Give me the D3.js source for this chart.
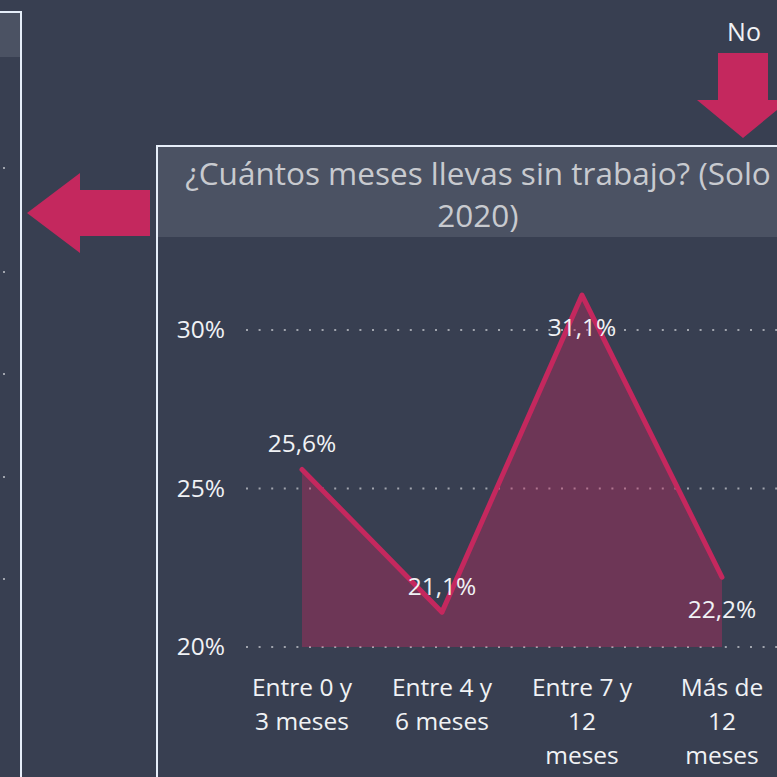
<!DOCTYPE html>
<html>
<head>
<meta charset="utf-8">
<script src="https://cdn.jsdelivr.net/npm/d3@7"></script>
<style>
  html, body { margin: 0; padding: 0; background: #383f51; overflow: hidden; }
  svg { display: block; font-family: "Open Sans", "Noto Sans", sans-serif; }
</style>
</head>
<body>
<div id="chart"></div>
<script>
// datos
var categories = ["Entre 0 y 3 meses", "Entre 4 y 6 meses", "Entre 7 y 12 meses", "Más de 12 meses"];
var values = [25.6, 21.1, 31.1, 22.2];
var yTicks = [20, 25, 30];
var title = ["¿Cuántos meses llevas sin trabajo? (Solo", "2020)"];
var arrowLabel = "No";

var width = 777, height = 777;
var bg = "#383f51", band = "#4b5263", border = "#e6eef9";
var pink = "#c4285e";

var svg = d3.select("#chart").append("svg")
    .attr("width", width)
    .attr("height", height);

svg.append("rect").attr("width", width).attr("height", height).attr("fill", bg);

// panel de la izquierda (cortado)
svg.append("rect")
    .attr("x", -20).attr("y", 13).attr("width", 40).attr("height", 44)
    .attr("fill", band);
svg.append("rect")
    .attr("x", -20).attr("y", 12).attr("width", 41).attr("height", 820)
    .attr("fill", "none").attr("stroke", border).attr("stroke-width", 2);
[168, 272, 374, 477, 579].forEach(function(y) {
    svg.append("rect").attr("x", 3).attr("y", y - 1).attr("width", 2).attr("height", 2)
        .attr("fill", "#a0a4ad");
});

// flechas
svg.append("path")
    .attr("d", "M27,213 L80,173 L80,190 L150,190 L150,236 L80,236 L80,253 Z")
    .attr("fill", pink);
svg.append("path")
    .attr("d", "M718,53 L768,53 L768,100 L789,100 L743,138 L697,100 L718,100 Z")
    .attr("fill", pink);
svg.append("text")
    .attr("x", 744).attr("y", 41)
    .attr("text-anchor", "middle")
    .attr("font-size", 25)
    .attr("fill", "#f0f2f5")
    .text(arrowLabel);

// panel principal
svg.append("rect")
    .attr("x", 158).attr("y", 147).attr("width", 700).attr("height", 90)
    .attr("fill", band);
svg.append("rect")
    .attr("x", 157).attr("y", 146).attr("width", 700).attr("height", 700)
    .attr("fill", "none").attr("stroke", border).attr("stroke-width", 2);

svg.append("text")
    .attr("text-anchor", "middle")
    .attr("font-size", 31.5)
    .attr("fill", "#c8cacf")
    .selectAll("tspan")
    .data(title)
    .enter().append("tspan")
    .attr("x", 478)
    .attr("y", function(d, i) { return 185 + i * 42; })
    .text(function(d) { return d; });

var x = d3.scalePoint().domain(categories).range([302, 722]);
var y = d3.scaleLinear().domain([20, 30]).range([647, 330]);

// lineas de cuadricula punteadas
svg.append("g")
    .selectAll("line")
    .data(yTicks)
    .enter().append("line")
    .attr("x1", 246).attr("x2", width)
    .attr("y1", function(d) { return y(d); })
    .attr("y2", function(d) { return y(d); })
    .attr("stroke", "#a0a4ad")
    .attr("stroke-width", 2)
    .attr("stroke-dasharray", "2 10.6");

svg.append("g")
    .selectAll("text")
    .data(yTicks)
    .enter().append("text")
    .attr("x", 225)
    .attr("y", function(d) { return y(d) + 8; })
    .attr("text-anchor", "end")
    .attr("font-size", 24.5)
    .attr("fill", "#f0f2f5")
    .text(function(d) { return d + "%"; });

// area + linea
var area = d3.area()
    .x(function(d, i) { return x(categories[i]); })
    .y0(y(20))
    .y1(function(d) { return y(d); });
var line = d3.line()
    .x(function(d, i) { return x(categories[i]); })
    .y(function(d) { return y(d); });

svg.append("path")
    .datum(values)
    .attr("d", area)
    .attr("fill", pink)
    .attr("fill-opacity", 0.38);
svg.append("path")
    .datum(values)
    .attr("d", line)
    .attr("fill", "none")
    .attr("stroke", pink)
    .attr("stroke-width", 5)
    .attr("stroke-linejoin", "round")
    .attr("stroke-linecap", "round");

// etiquetas de datos (arriba o abajo como en el original)
var labelPos = ["above", "above", "below", "below"];
svg.append("g")
    .selectAll("text")
    .data(values)
    .enter().append("text")
    .attr("x", function(d, i) { return x(categories[i]); })
    .attr("y", function(d, i) { return labelPos[i] == "above" ? y(d) - 17 : y(d) + 41; })
    .attr("text-anchor", "middle")
    .attr("font-size", 24.5)
    .attr("fill", "#f0f2f5")
    .text(function(d) { return d3.format(".1f")(d).replace(".", ",") + "%"; });

// etiquetas del eje x con salto de linea
function wrapWords(str, maxW, size) {
    var probe = svg.append("text").attr("font-size", size);
    var words = str.split(" "), lines = [], cur = "";
    words.forEach(function(w) {
        var test = cur ? cur + " " + w : w;
        probe.text(test);
        if (cur && probe.node().getComputedTextLength() > maxW) {
            lines.push(cur);
            cur = w;
        } else {
            cur = test;
        }
    });
    lines.push(cur);
    probe.remove();
    return lines;
}

var xl = svg.append("g");
categories.forEach(function(c) {
    var t = xl.append("text")
        .attr("text-anchor", "middle")
        .attr("font-size", 24.5)
        .attr("fill", "#f0f2f5");
    wrapWords(c, 101, 24.5).forEach(function(l, j) {
        t.append("tspan")
            .attr("x", x(c))
            .attr("y", 696 + j * 34)
            .text(l);
    });
});
</script>
</body>
</html>
